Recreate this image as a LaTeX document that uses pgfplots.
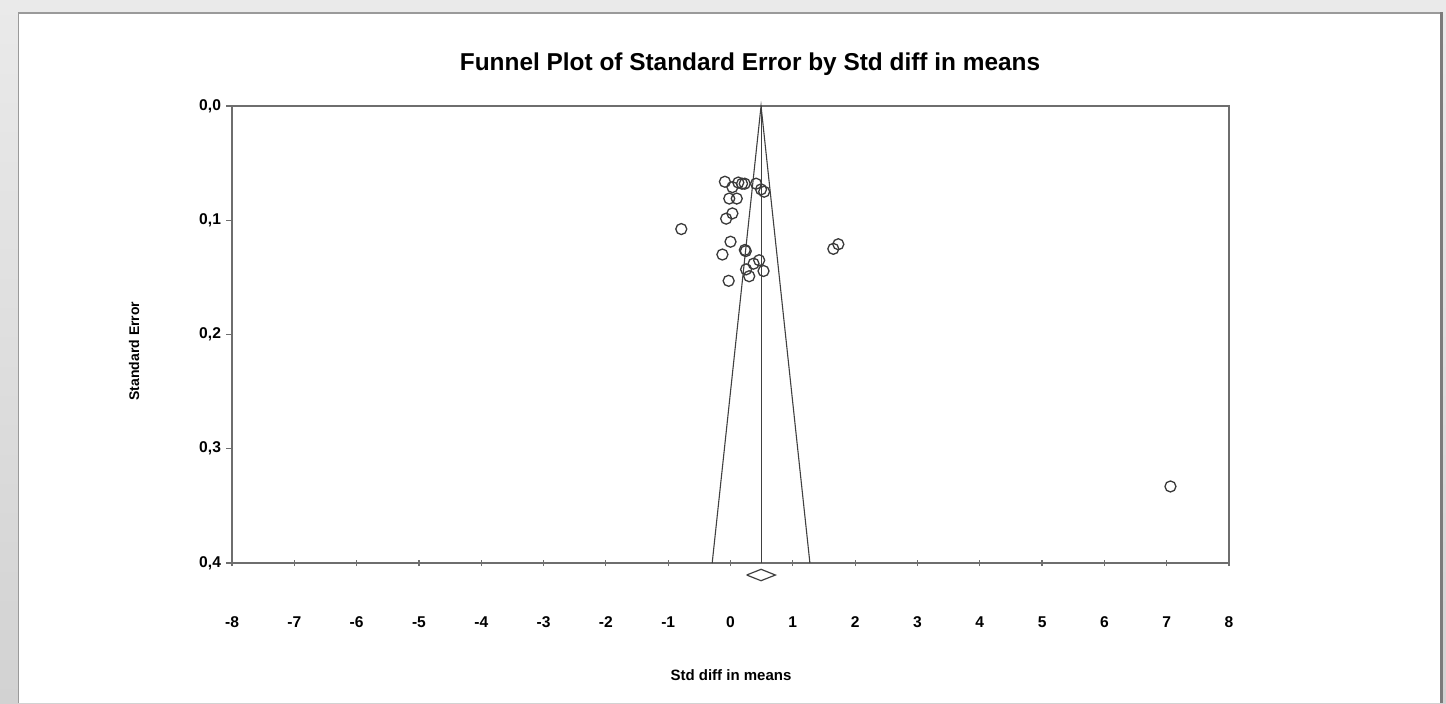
\documentclass[border=0pt]{standalone}
\usepackage{fontspec}
\setmainfont{Liberation Sans}
\usepackage{pgfplots}
\pgfplotsset{compat=1.18}
\definecolor{framegray}{HTML}{DCDCDC}
\definecolor{framegrayb}{HTML}{D2D2D2}
\definecolor{panelline}{HTML}{9A9A9A}
\definecolor{axisgray}{HTML}{6E6E6E}
\definecolor{ptgray}{HTML}{3A3A3A}
\begin{document}
\begin{tikzpicture}[x=1pt,y=1pt]
% background frame
\useasboundingbox (0,0) rectangle (723,351.5);
\shade[top color=framegray!60!white, bottom color=framegrayb] (0,0) rectangle (723,351.5);
\fill[white] (9.2,0) rectangle (720.2,345);
\draw[panelline, line width=0.6pt] (9.2,0) -- (9.2,345) -- (720.2,345);
\draw[panelline!80!black, line width=1.4pt] (720.6,0) -- (720.6,345.3);
% title
\node[font=\bfseries\fontsize{12.2}{14}\selectfont] at (375,319.5) {Funnel Plot of Standard Error by Std diff in means};
% axis labels
\node[font=\bfseries\fontsize{7}{8}\selectfont, rotate=90] at (67,176) {Standard Error};
\node[font=\bfseries\fontsize{7.5}{9}\selectfont] at (365.5,14) {Std diff in means};
\begin{axis}[
  at={(116pt,70pt)}, anchor=south west,
  scale only axis, width=498.5pt, height=228.5pt,
  xmin=-8, xmax=8, ymin=0, ymax=0.4,
  y dir=reverse,
  clip=false,
  axis line style={axisgray, line width=0.8pt},
  xtick={-8,-7,...,8},
  ytick={0,0.1,0.2,0.3,0.4},
  yticklabels={{0,0},{0,1},{0,2},{0,3},{0,4}},
  major tick length=3pt,
  tick style={axisgray, line width=0.6pt},
  xtick align=center,
  ytick align=outside,
  xtick pos=bottom, ytick pos=left,
  xticklabel style={font=\bfseries\fontsize{7.8}{9}\selectfont, yshift=-22pt},
  yticklabel style={font=\bfseries\fontsize{7.8}{9}\selectfont, xshift=1pt},
  xticklabel={\pgfmathprintnumber[assume math mode=true]{\tick}},
]
% funnel
\addplot[black!75, line width=0.55pt] coordinates {(-0.294,0.4) (0.49,0) (1.274,0.4)};
\addplot[black!75, line width=0.5pt] coordinates {(0.49,0) (0.49,0.4)};
% summary diamond
\addplot[black!75, line width=0.6pt] coordinates {(0.26,0.4105) (0.49,0.4055) (0.72,0.4105) (0.49,0.4155) (0.26,0.4105)};
% studies
\addplot[only marks, mark=o, mark size=2.75pt, mark options={ptgray, line width=0.65pt}] coordinates {
(-0.09,0.0663) (0.125,0.067) (0.03,0.071) (0.185,0.068) (0.228,0.068)
(0.41,0.068) (0.49,0.073) (0.54,0.075) (-0.02,0.081) (0.10,0.081)
(0.03,0.094) (-0.07,0.0986) (-0.79,0.1077) (0.0,0.1188) (0.23,0.126)
(0.245,0.127) (-0.13,0.130) (0.46,0.135) (0.37,0.138) (0.25,0.143)
(0.53,0.1444) (0.30,0.149) (-0.03,0.153) (1.65,0.125) (1.73,0.121)
(7.06,0.333)
};
\end{axis}
\end{tikzpicture}
\end{document}
